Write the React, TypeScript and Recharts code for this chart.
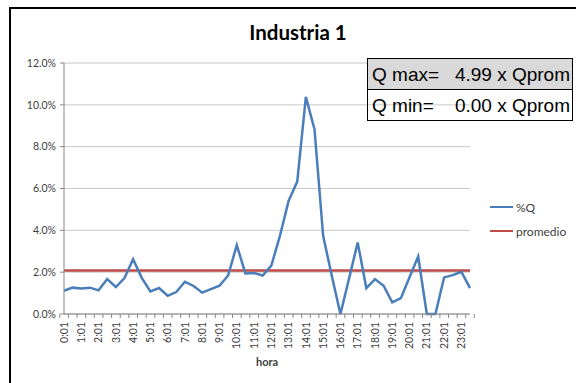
import { CartesianGrid, Line, LineChart, XAxis, YAxis } from "recharts";

// half-hour steps, every other one gets a label
const horas = [
  "0:01", "0:31", "1:01", "1:31", "2:01", "2:31", "3:01", "3:31",
  "4:01", "4:31", "5:01", "5:31", "6:01", "6:31", "7:01", "7:31",
  "8:01", "8:31", "9:01", "9:31", "10:01", "10:31", "11:01", "11:31",
  "12:01", "12:31", "13:01", "13:31", "14:01", "14:31", "15:01", "15:31",
  "16:01", "16:31", "17:01", "17:31", "18:01", "18:31", "19:01", "19:31",
  "20:01", "20:31", "21:01", "21:31", "22:01", "22:31", "23:01", "23:31",
];

// %Q
const caudal = [
  1.11, 1.26, 1.22, 1.26, 1.13, 1.67, 1.29, 1.72, 2.62, 1.73,
  1.08, 1.24, 0.87, 1.05, 1.54, 1.34, 1.02, 1.19, 1.35, 1.84,
  3.29, 1.94, 1.96, 1.84, 2.31, 3.74, 5.41, 6.33, 10.38, 8.82,
  3.74, 1.83, 0.0, 1.7, 3.42, 1.24, 1.67, 1.35, 0.56, 0.76,
  1.76, 2.75, 0.0, 0.0, 1.75, 1.86, 2.02, 1.24,
];

const PROMEDIO = 2.08;
const yTicks = [0, 2, 4, 6, 8, 10, 12];

const data = horas.map((hora, i) => ({ hora, q: caudal[i], promedio: PROMEDIO }));

const BLUE = "#4a7ebb";
const RED = "#be4b48";
const TEXT = "#404040";
const PLOT_W = 406;

function HoraTick(props: any) {
  const { x, y, payload, index } = props;
  const band = PLOT_W / horas.length;
  const left = x - band / 2;
  return (
    <g>
      <line x1={left} x2={left} y1={y - 8} y2={y - 4} stroke="#868686" />
      {index === horas.length - 1 && (
        <line x1={x + band / 2} x2={x + band / 2} y1={y - 8} y2={y - 4} stroke="#868686" />
      )}
      {index % 2 === 0 && (
        <text
          x={x}
          y={y}
          dy="0.35em"
          transform={`rotate(-90 ${x} ${y})`}
          textAnchor="end"
          fontSize={10.5}
          fontFamily="Lato"
          fill={TEXT}
        >
          {payload.value}
        </text>
      )}
    </g>
  );
}

export default function App() {
  return (
    <div style={{ position: "fixed", left: 0, top: 0, width: 576, height: 383, background: "#fff", overflow: "hidden" }}>
      <div style={{ position: "absolute", left: 9, top: 7, width: 640, height: 440, border: "2px solid #000" }} />
      <div
        style={{
          position: "absolute", left: 0, top: 20, width: 596, textAlign: "center",
          fontFamily: "Lato", fontWeight: 700, fontSize: 20.5, color: "#000",
        }}
      >
        Industria 1
      </div>

      <div style={{ position: "absolute", left: 0, top: 0 }}>
        <LineChart width={576} height={383} data={data} margin={{ top: 63, right: 106, bottom: 19, left: 10 }}>
          <CartesianGrid vertical={false} stroke="#c8c8c8" />
          <XAxis
            dataKey="hora"
            interval={0}
            height={50}
            tickSize={4}
            tickMargin={4}
            tickLine={false}
            axisLine={{ stroke: "#868686" }}
            tick={<HoraTick />}
          />
          <YAxis
            width={54}
            domain={[0, 12]}
            ticks={yTicks}
            tickFormatter={(v: number) => v.toFixed(1) + "%"}
            tickSize={4}
            tickMargin={4}
            axisLine={{ stroke: "#868686" }}
            tickLine={{ stroke: "#868686" }}
            tick={{ fontSize: 10.5, fontFamily: "Lato", fill: TEXT }}
          />
          <Line dataKey="promedio" stroke={RED} strokeWidth={2.5} dot={false} isAnimationActive={false} />
          <Line dataKey="q" stroke={BLUE} strokeWidth={2.5} dot={false} isAnimationActive={false} />
        </LineChart>
      </div>

      <div
        style={{
          position: "absolute", left: 247, top: 355, width: 40, textAlign: "center",
          fontFamily: "Lato", fontWeight: 700, fontSize: 11, color: TEXT,
        }}
      >
        hora
      </div>

      <div style={{ position: "absolute", left: 490, top: 199, fontFamily: "Lato", fontSize: 12, color: TEXT }}>
        <div style={{ display: "flex", alignItems: "center", height: 16 }}>
          <span style={{ width: 23, height: 2.5, background: BLUE, marginRight: 3 }} />%Q
        </div>
        <div style={{ display: "flex", alignItems: "center", height: 16, marginTop: 8 }}>
          <span style={{ width: 23, height: 2.5, background: RED, marginRight: 3 }} />promedio
        </div>
      </div>

      <div
        style={{
          position: "absolute", left: 367, top: 58, width: 204, border: "1px solid #000",
          fontFamily: "'Liberation Sans', Arial", fontSize: 19, color: "#000",
        }}
      >
        <div style={{ position: "relative", height: 30, background: "#d9d9d9", borderBottom: "1px solid #000" }}>
          <span style={{ position: "absolute", left: 4, top: 5 }}>Q max=</span>
          <span style={{ position: "absolute", right: 2, top: 5 }}>4.99 x Qprom</span>
        </div>
        <div style={{ position: "relative", height: 30 }}>
          <span style={{ position: "absolute", left: 4, top: 5 }}>Q min=</span>
          <span style={{ position: "absolute", right: 2, top: 5 }}>0.00 x Qprom</span>
        </div>
      </div>
    </div>
  );
}
